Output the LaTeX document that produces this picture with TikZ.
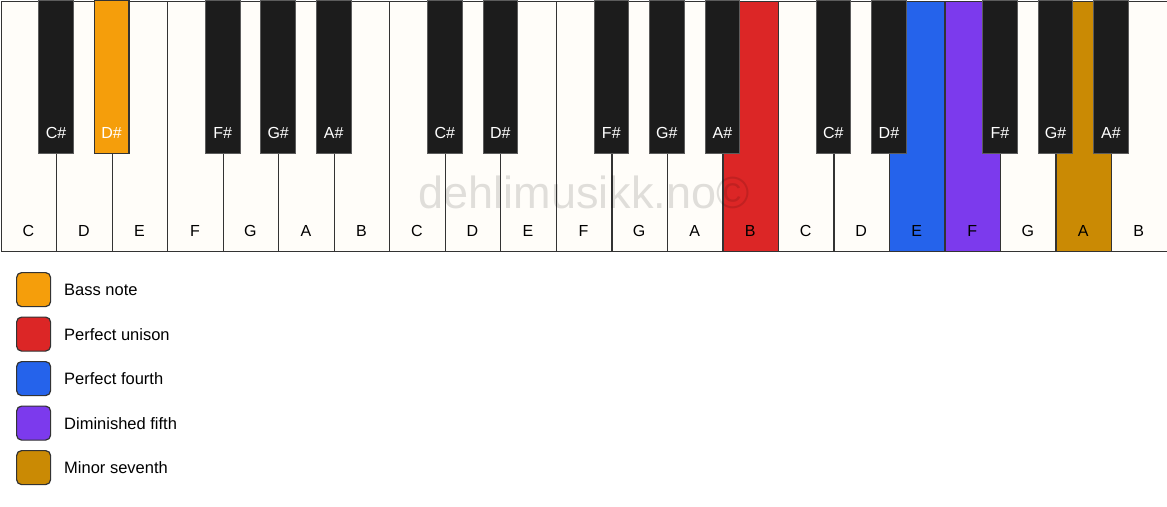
\documentclass[tikz,border=0pt]{standalone}
\usepackage{fontspec}
\setmainfont{Liberation Sans}
\definecolor{ivory}{HTML}{FFFDF9}
\definecolor{keyblack}{HTML}{1C1C1C}
\definecolor{edge}{HTML}{333333}
\definecolor{cbass}{HTML}{F59E0B}
\definecolor{cunison}{HTML}{DC2626}
\definecolor{cfourth}{HTML}{2563EB}
\definecolor{cdim}{HTML}{7C3AED}
\definecolor{cseventh}{HTML}{CA8A04}
\begin{document}
\begin{tikzpicture}[x=1pt,y=-1pt,
  whitekey/.style={draw=edge,line width=1.2pt,fill=ivory,anchor=north west,inner sep=0pt,minimum width=55.52pt,minimum height=250pt},
  blackkey/.style={draw=edge!80!white,line width=0.8pt,fill=keyblack,anchor=north,inner sep=0pt,minimum width=34.7pt,minimum height=153pt},
  wlabel/.style={font=\fontsize{16}{19}\selectfont,text=black,inner sep=0pt},
  blabel/.style={font=\fontsize{16}{19}\selectfont,text=white,inner sep=0pt},
  swatch/.style={draw=edge,line width=1.2pt,rounded corners=5pt,minimum width=34pt,minimum height=34pt,inner sep=0pt,anchor=north west},
  legtext/.style={font=\fontsize{16.5}{19}\selectfont,anchor=west,inner sep=0pt}]
\useasboundingbox (0,0) rectangle (1167,506);
\fill[white] (0,0) rectangle (1167,506);
% white keys
\foreach \i/\n/\c in {0/C/ivory,1/D/ivory,2/E/ivory,3/F/ivory,4/G/ivory,5/A/ivory,6/B/ivory,
  7/C/ivory,8/D/ivory,9/E/ivory,10/F/ivory,11/G/ivory,12/A/ivory,13/B/cunison,
  14/C/ivory,15/D/ivory,16/E/cfourth,17/F/cdim,18/G/ivory,19/A/cseventh,20/B/ivory}{
  \node[whitekey,fill=\c] (w\i) at ({\i*55.52+0.6},0.6) {};
  \node[wlabel] (wl\i) at ({(\i+0.5)*55.52+0.6},230.5) {\n};
}
% watermark
\node[font=\fontsize{45}{50}\selectfont,text=black,text opacity=0.12,inner sep=0pt] (wm) at (584,192) {dehlimusikk.no©};
% black keys
\foreach \k/\n/\c in {1/C\#/keyblack,4/F\#/keyblack,5/G\#/keyblack,6/A\#/keyblack,
  8/C\#/keyblack,9/D\#/keyblack,11/F\#/keyblack,12/G\#/keyblack,13/A\#/keyblack,
  15/C\#/keyblack,16/D\#/keyblack,18/F\#/keyblack,19/G\#/keyblack,20/A\#/keyblack}{
  \node[blackkey,fill=\c] (b\k) at ({\k*55.52+0.6},0) {};
  \node[blabel] (bl\k) at ({\k*55.52+0.6},133) {\n};
}
\node[blackkey,fill=cbass,draw=edge,line width=1.2pt] (b2) at ({2*55.52+0.6},0) {};
\node[blabel] (bl2) at ({2*55.52+0.6},133) {D\#};
% legend
\foreach \j/\c/\t in {0/cbass/Bass note,1/cunison/Perfect unison,2/cfourth/Perfect fourth,3/cdim/Diminished fifth,4/cseventh/Minor seventh}{
  \node[swatch,fill=\c] (s\j) at (16,{272+\j*44.5}) {};
  \node[legtext] (t\j) at (64,{290+\j*44.5}) {\t};
}
\end{tikzpicture}
\end{document}
